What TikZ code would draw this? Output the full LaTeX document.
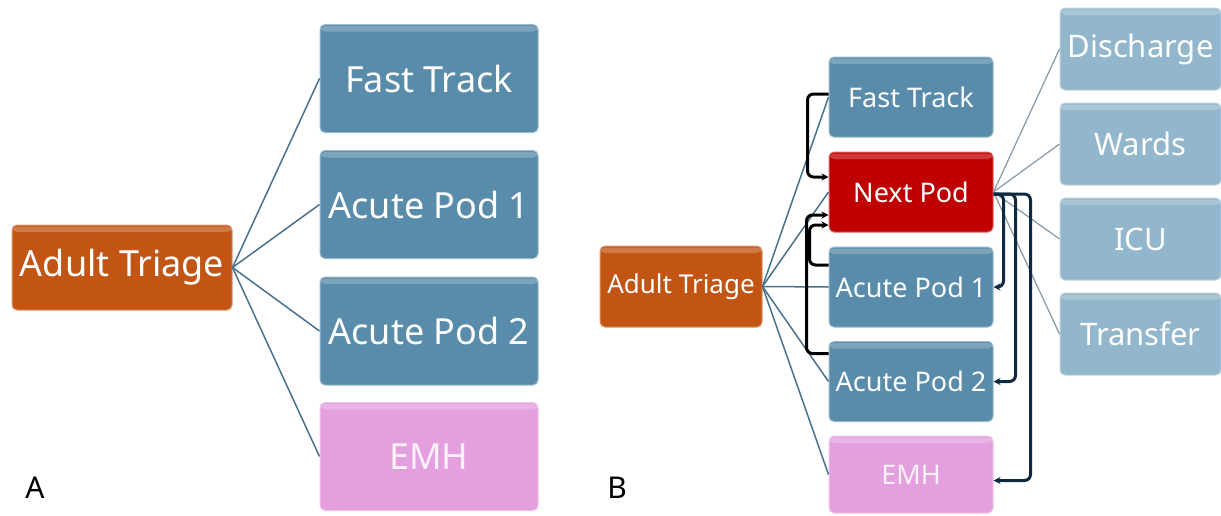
\documentclass[tikz,border=0pt]{standalone}
\usepackage{fontspec}
\setmainfont{Noto Sans}
\usepackage{tikz}
\usetikzlibrary{arrows.meta, calc}
\definecolor{bleuacier}{RGB}{88,140,170}
\definecolor{bleuclair}{RGB}{146,182,203}
\definecolor{orangetri}{RGB}{194,84,20}
\definecolor{rougepod}{RGB}{192,0,0}
\definecolor{roseemh}{RGB}{228,160,222}
\definecolor{liengris}{RGB}{72,114,142}
\definecolor{liensortie}{RGB}{140,158,172}
\definecolor{marine}{RGB}{14,40,65}

\begin{document}
\begin{tikzpicture}[x=1pt, y=-1pt,
    boite/.style={rectangle, rounded corners=5pt, fill=#1, draw=#1!60!white,
      line width=1pt, text=white, inner sep=0pt,
      path picture={\fill[white, opacity=0.22]
        ([yshift=-1.5pt]path picture bounding box.north west) rectangle
        ([yshift=-7pt]path picture bounding box.north east);}},
    grandA/.style={minimum width=218pt, minimum height=108pt, font=\fontsize{36}{36}\selectfont},
    moyenB/.style={minimum width=164pt, minimum height=80pt, font=\fontsize{27}{27}\selectfont},
    sortieB/.style={boite=bleuclair, minimum width=161pt, minimum height=82pt, font=\fontsize{31}{31}\selectfont},
    lien/.style={draw=liengris, line width=1.5pt},
    lien2/.style={draw=liensortie, line width=1.3pt},
    retour/.style={-{Stealth[length=7pt, width=7pt]}, line width=3pt, rounded corners=6pt}]
  \useasboundingbox (0,0) rectangle (1221,515);

  % volet A
  \node[boite=orangetri, minimum width=220pt, minimum height=85pt, font=\fontsize{36}{36}\selectfont] (triA) at (122,267.5) {Adult Triage};
  \node[boite=bleuacier, grandA] (ftA) at (429,78.5) {Fast Track};
  \node[boite=bleuacier, grandA] (ap1A) at (429,204.5) {Acute Pod 1};
  \node[boite=bleuacier, grandA] (ap2A) at (429,331) {Acute Pod 2};
  \node[boite=roseemh, grandA, text=white!85!roseemh] (emhA) at (429,456.5) {EMH};
  \foreach \n in {ftA, ap1A, ap2A, emhA}
    \draw[lien] (triA.east) -- (\n.west);
  \node[font=\fontsize{30}{30}\selectfont] (lblA) at (35,488) {A};

  % volet B
  \node[boite=orangetri, minimum width=162pt, minimum height=81pt, font=\fontsize{26}{26}\selectfont] (triB) at (681,286.5) {Adult Triage};
  \node[boite=bleuacier, moyenB] (ftB) at (911,97) {Fast Track};
  \node[boite=rougepod, moyenB] (npB) at (911,192) {Next Pod};
  \node[boite=bleuacier, moyenB] (ap1B) at (911,287) {Acute Pod 1};
  \node[boite=bleuacier, moyenB] (ap2B) at (911,381.5) {Acute Pod 2};
  \node[boite=roseemh, moyenB, minimum height=77pt, text=white!85!roseemh] (emhB) at (911,474.5) {EMH};
  \node[sortieB] (disB) at (1140.5,49) {Discharge};
  \node[sortieB] (warB) at (1140.5,144) {Wards};
  \node[sortieB] (icuB) at (1140.5,239) {ICU};
  \node[sortieB] (traB) at (1140.5,334) {Transfer};
  \node[font=\fontsize{30}{30}\selectfont] (lblB) at (617,488) {B};

  % liens depuis le triage et vers les sorties
  \foreach \n in {ftB, npB, ap1B, ap2B, emhB}
    \draw[lien] (triB.east) -- (\n.west);
  \foreach \n in {disB, warB, icuB, traB}
    \draw[lien2] (npB.east) -- (\n.west);

  % transferts vers Next Pod
  \draw[retour] ($(ftB.west)+(0,-3)$) -- ++(-21,0) |- ($(npB.west)+(0,-15)$);
  \draw[retour] ($(ap1B.west)+(0,-22)$) -- ++(-19,0) |- ($(npB.west)+(0,33)$);
  \draw[retour] ($(ap2B.west)+(0,-28)$) -- ++(-22,0) |- ($(npB.west)+(0,23)$);

  % retours depuis Next Pod
  \draw[retour, marine] ($(npB.east)+(0,2)$) -| ($(ap1B.east)+(10,0)$) -- (ap1B.east);
  \draw[retour, marine] ($(npB.east)+(0,2)$) -| ($(ap2B.east)+(22,0)$) -- (ap2B.east);
  \draw[retour, marine] ($(npB.east)+(0,2)$) -| ($(emhB.east)+(37,6)$) -- ($(emhB.east)+(0,6)$);
\end{tikzpicture}
\end{document}
